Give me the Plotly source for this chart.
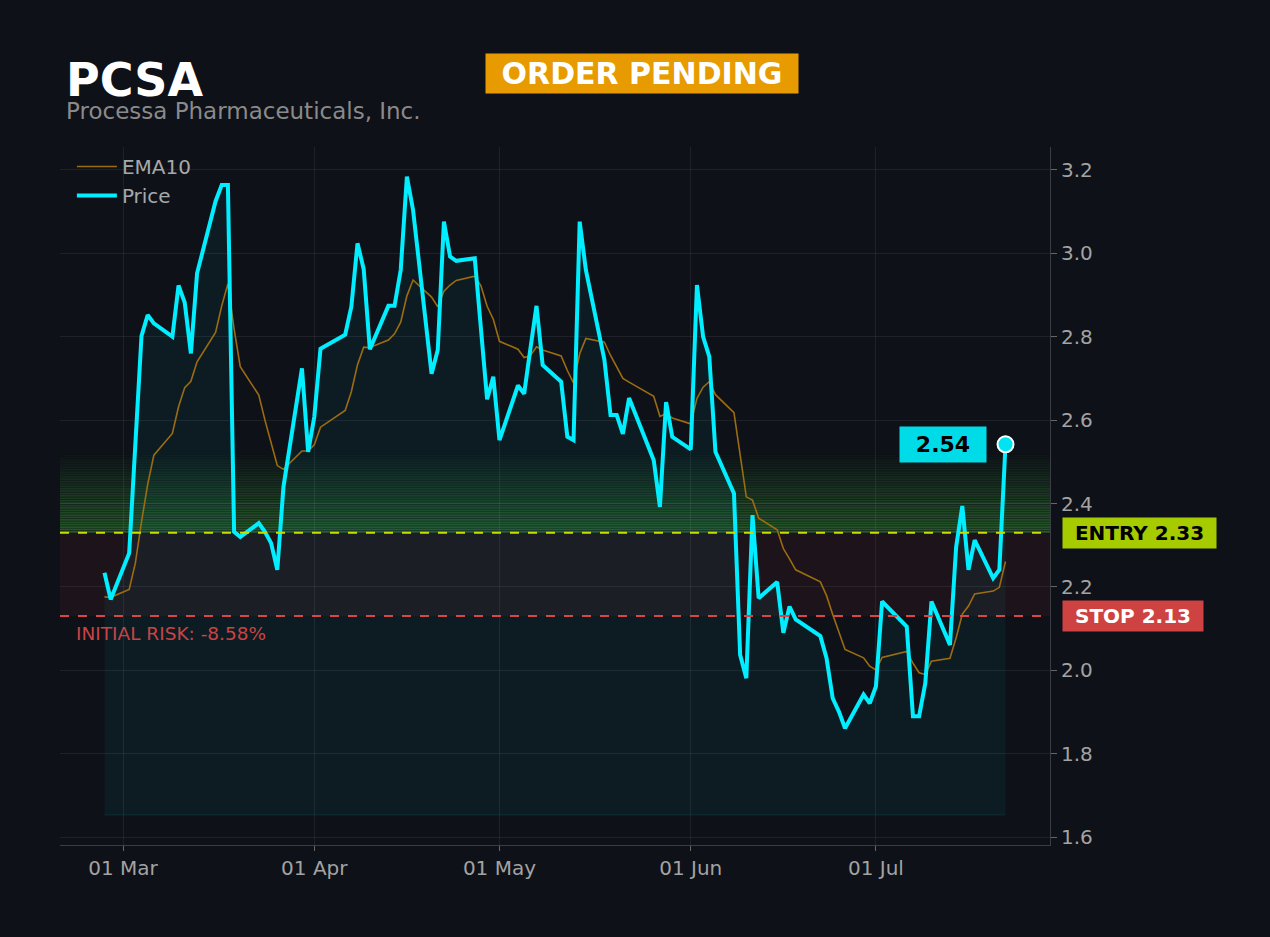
import plotly.graph_objects as go

# --- data (2026 trading days) ---
dates = [
    "2026-02-26", "2026-02-27",
    "2026-03-02", "2026-03-03", "2026-03-04", "2026-03-05", "2026-03-06",
    "2026-03-09", "2026-03-10", "2026-03-11", "2026-03-12", "2026-03-13",
    "2026-03-16", "2026-03-17", "2026-03-18", "2026-03-19", "2026-03-20",
    "2026-03-23", "2026-03-24", "2026-03-25", "2026-03-26", "2026-03-27",
    "2026-03-30", "2026-03-31", "2026-04-01", "2026-04-02",
    "2026-04-06", "2026-04-07", "2026-04-08", "2026-04-09", "2026-04-10",
    "2026-04-13", "2026-04-14", "2026-04-15", "2026-04-16", "2026-04-17",
    "2026-04-20", "2026-04-21", "2026-04-22", "2026-04-23", "2026-04-24",
    "2026-04-27", "2026-04-28", "2026-04-29", "2026-04-30", "2026-05-01",
    "2026-05-04", "2026-05-05", "2026-05-06", "2026-05-07", "2026-05-08",
    "2026-05-11", "2026-05-12", "2026-05-13", "2026-05-14", "2026-05-15",
    "2026-05-18", "2026-05-19", "2026-05-20", "2026-05-21", "2026-05-22",
    "2026-05-26", "2026-05-27", "2026-05-28", "2026-05-29",
    "2026-06-01", "2026-06-02", "2026-06-03", "2026-06-04", "2026-06-05",
    "2026-06-08", "2026-06-09", "2026-06-10", "2026-06-11", "2026-06-12",
    "2026-06-15", "2026-06-16", "2026-06-17", "2026-06-18",
    "2026-06-22", "2026-06-23", "2026-06-24", "2026-06-25", "2026-06-26",
    "2026-06-29", "2026-06-30", "2026-07-01", "2026-07-02",
    "2026-07-06", "2026-07-07", "2026-07-08", "2026-07-09", "2026-07-10",
    "2026-07-13", "2026-07-14", "2026-07-15", "2026-07-16", "2026-07-17",
    "2026-07-20", "2026-07-21", "2026-07-22",
]

price = [
    2.234, 2.170,
    2.281, 2.540, 2.802, 2.852, 2.832,
    2.800, 2.923, 2.882, 2.760, 2.952,
    3.125, 3.164, 3.164, 2.332, 2.320,
    2.353, 2.332, 2.305, 2.241, 2.440,
    2.724, 2.524, 2.608, 2.771,
    2.805, 2.872, 3.024, 2.962, 2.770,
    2.874, 2.874, 2.960, 3.184, 3.104,
    2.711, 2.768, 3.076, 2.992, 2.982,
    2.988, 2.820, 2.650, 2.704, 2.552,
    2.683, 2.663, 2.770, 2.874, 2.732,
    2.692, 2.560, 2.552, 3.076, 2.960,
    2.745, 2.612, 2.612, 2.567, 2.653,
    2.504, 2.392, 2.643, 2.560,
    2.530, 2.924, 2.800, 2.752, 2.524,
    2.424, 2.037, 1.981, 2.372, 2.173,
    2.212, 2.090, 2.153, 2.122,
    2.082, 2.029, 1.933, 1.901, 1.861,
    1.942, 1.921, 1.961, 2.165,
    2.105, 1.890, 1.890, 1.969, 2.165,
    2.061, 2.296, 2.394, 2.241, 2.312,
    2.221, 2.241, 2.542,
]

ema10 = [
    2.176, 2.175,
    2.194, 2.257, 2.356, 2.446, 2.516,
    2.568, 2.632, 2.678, 2.693, 2.740,
    2.810, 2.874, 2.927, 2.819, 2.728,
    2.660, 2.600, 2.546, 2.491, 2.482,
    2.526, 2.526, 2.541, 2.583,
    2.623, 2.668, 2.733, 2.775, 2.774,
    2.792, 2.807, 2.835, 2.898, 2.936,
    2.895, 2.872, 2.909, 2.924, 2.935,
    2.945, 2.922, 2.873, 2.842, 2.789,
    2.770, 2.750, 2.754, 2.776, 2.768,
    2.754, 2.719, 2.689, 2.759, 2.796,
    2.787, 2.755, 2.729, 2.700, 2.691,
    2.657, 2.609, 2.615, 2.605,
    2.591, 2.652, 2.679, 2.692, 2.661,
    2.618, 2.512, 2.416, 2.408, 2.365,
    2.337, 2.292, 2.267, 2.241,
    2.212, 2.179, 2.134, 2.092, 2.050,
    2.030, 2.010, 2.001, 2.031,
    2.045, 2.017, 1.994, 1.990, 2.022,
    2.029, 2.078, 2.135, 2.154, 2.183,
    2.190, 2.199, 2.261,
]

ticker = "PCSA"
company = "Processa Pharmaceuticals, Inc."
status = "ORDER PENDING"
entry = 2.33
stop = 2.13

# style constants
BG = "#0e1118"
CYAN = "#00eeff"
EMA_COL = "#9c6c12"
GRID = "rgba(255,255,255,0.07)"
TICK_COL = "#a3a3a3"
FONT = "DejaVu Sans"
FILL_FLOOR = 1.653
GLOW_TOP = 2.525

risk_pct = (stop - entry) / entry * 100

fig = go.Figure()

# floor for the area fill under the price
fig.add_trace(go.Scatter(
    x=dates, y=[FILL_FLOOR] * len(dates), mode="lines",
    line=dict(color="rgba(0,229,255,0.10)", width=1),
    hoverinfo="skip", showlegend=False))
fig.add_trace(go.Scatter(
    x=dates, y=price, mode="lines", fill="tonexty",
    fillcolor="rgba(0,229,255,0.05)", line=dict(width=0),
    hoverinfo="skip", showlegend=False))

fig.add_trace(go.Scatter(
    x=dates, y=ema10, mode="lines", name="EMA10",
    line=dict(color=EMA_COL, width=1.6)))
fig.add_trace(go.Scatter(
    x=dates, y=price, mode="lines", name="Price",
    line=dict(color=CYAN, width=4)))

# last price dot
fig.add_trace(go.Scatter(
    x=[dates[-1]], y=[price[-1]], mode="markers", showlegend=False,
    marker=dict(size=16, color="#00e3f2", line=dict(color="white", width=2))))

# green glow above entry: thin stripes fading out upwards
n_bands = 34
band_h = (GLOW_TOP - entry) / n_bands
for i in range(n_bands):
    y0 = entry + i * band_h
    alpha = 0.5 * (1 - i / n_bands)
    fig.add_shape(type="rect", xref="paper", x0=0, x1=1, yref="y",
                  y0=y0, y1=y0 + 0.72 * band_h,
                  fillcolor="rgba(62,160,58,%.3f)" % alpha,
                  line_width=0, layer="below")
    fig.add_shape(type="rect", xref="paper", x0=0, x1=1, yref="y",
                  y0=y0 + 0.72 * band_h, y1=y0 + band_h,
                  fillcolor="rgba(40,110,40,%.3f)" % (alpha * 0.6),
                  line_width=0, layer="below")

# risk zone between stop and entry
fig.add_shape(type="rect", xref="paper", x0=0, x1=1, yref="y",
              y0=stop, y1=entry, fillcolor="rgba(220,60,60,0.07)",
              line_width=0, layer="below")

fig.add_shape(type="line", xref="paper", x0=0, x1=1, yref="y", y0=entry, y1=entry,
              line=dict(color="#c8de00", width=2, dash="dash"))
fig.add_shape(type="line", xref="paper", x0=0, x1=1, yref="y", y0=stop, y1=stop,
              line=dict(color="#d94646", width=2, dash="dash"))

# header
fig.add_annotation(text="<b>" + ticker + "</b>", xref="paper", yref="paper",
                   x=0.004, y=1.096, xanchor="left", yanchor="middle",
                   showarrow=False, font=dict(family=FONT, size=46, color="white"))
fig.add_annotation(text=company, xref="paper", yref="paper",
                   x=0.004, y=1.052, xanchor="left", yanchor="middle",
                   showarrow=False, font=dict(family=FONT, size=23, color="#8a8a8a"))
fig.add_annotation(text="<b>" + status + "</b>", xref="paper", yref="paper",
                   x=0.588, y=1.106, xanchor="center", yanchor="middle",
                   showarrow=False, bgcolor="#e89b00", borderpad=4,
                   width=304, height=31,
                   font=dict(family=FONT, size=30, color="white"))

# right side labels
fig.add_annotation(text="<b>ENTRY %.2f</b>" % entry, xref="paper", yref="y",
                   x=1.012, y=entry, xanchor="left", yanchor="middle",
                   showarrow=False, bgcolor="#a6cc00", borderpad=4,
                   width=145, height=22,
                   font=dict(family=FONT, size=20, color="black"))
fig.add_annotation(text="<b>STOP %.2f</b>" % stop, xref="paper", yref="y",
                   x=1.012, y=stop, xanchor="left", yanchor="middle",
                   showarrow=False, bgcolor="#cf4242", borderpad=4,
                   width=132, height=22,
                   font=dict(family=FONT, size=20, color="white"))
fig.add_annotation(text="<b>%.2f</b>" % price[-1], x=dates[-1], y=price[-1],
                   xanchor="right", yanchor="middle", xshift=-19,
                   showarrow=False, bgcolor="#00dbe8", borderpad=4,
                   width=78, height=27,
                   font=dict(family=FONT, size=22, color="black"))
fig.add_annotation(text="INITIAL RISK: %.2f%%" % risk_pct, xref="paper", yref="y",
                   x=0.014, y=stop, xanchor="left", yanchor="top", yshift=-5,
                   showarrow=False, font=dict(family=FONT, size=18.5, color="#c94444"))

fig.update_layout(
    width=1270, height=937,
    paper_bgcolor=BG, plot_bgcolor=BG,
    margin=dict(l=60, r=220, t=147, b=92),
    font=dict(family=FONT, size=20, color=TICK_COL),
    showlegend=True,
    legend=dict(x=0.012, y=1.0, xanchor="left", yanchor="top", traceorder="normal",
                itemwidth=40, bgcolor="rgba(0,0,0,0)",
                font=dict(size=20, color="#a8a8a8")),
)
fig.update_xaxes(
    range=["2026-02-18 19:00", "2026-07-29 05:00"],
    dtick="M1", tick0="2026-03-01", tickformat="%d %b",
    showgrid=True, gridcolor=GRID, zeroline=False,
    showline=True, linecolor="#3a3d44", linewidth=1,
    ticks="outside", ticklen=5, tickcolor="#666666",
    tickfont=dict(size=20, color=TICK_COL))
fig.update_yaxes(
    side="right", range=[1.581, 3.255], dtick=0.2, tickformat=".1f",
    showgrid=True, gridcolor=GRID, zeroline=False,
    showline=True, linecolor="#3a3d44", linewidth=1,
    ticks="outside", ticklen=6, tickcolor="#666666",
    tickfont=dict(size=20, color=TICK_COL))

# page has no white frame around the figure
fig.write_html("out.html", config={"displayModeBar": False}, post_script=(
    "document.body.style.margin='0';"
    "document.body.style.background='" + BG + "';"))
